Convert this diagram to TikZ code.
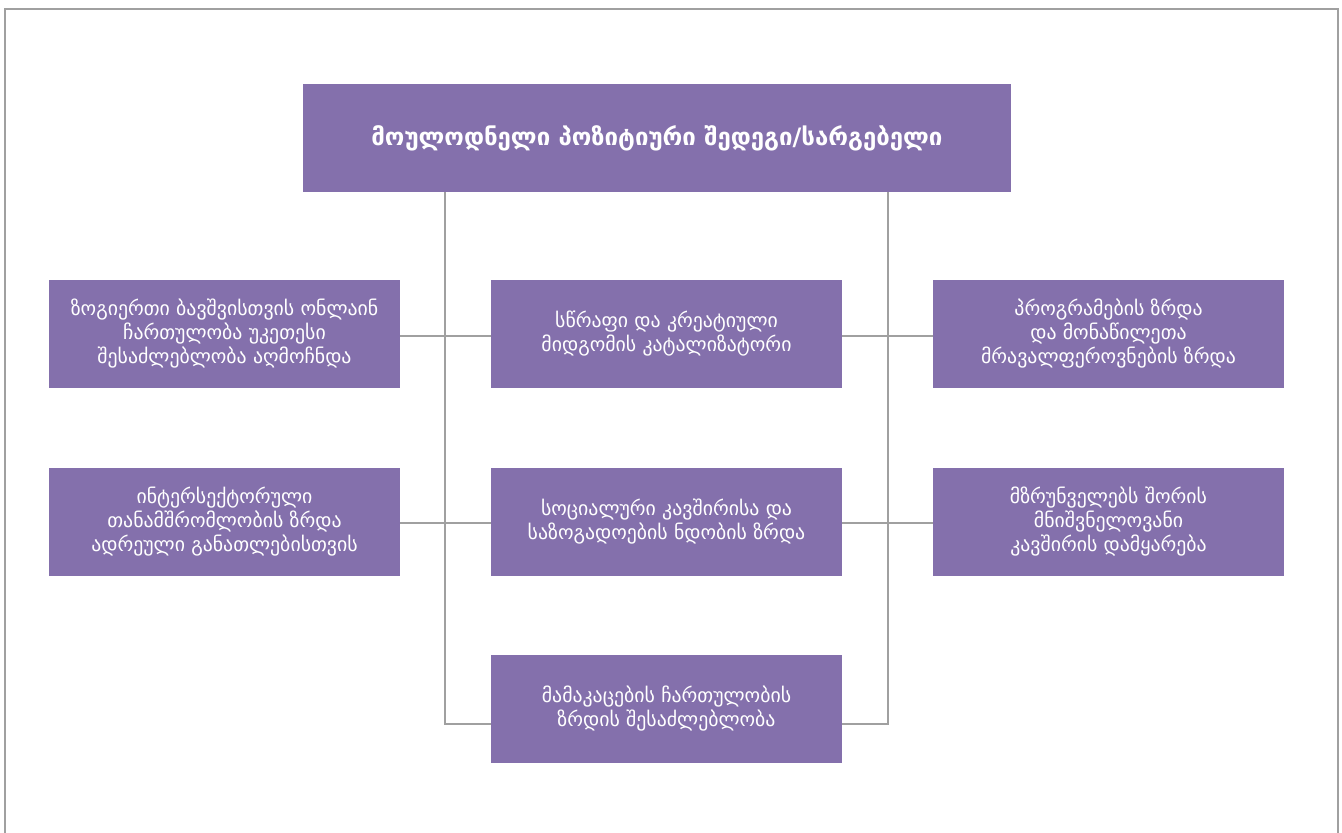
\documentclass[tikz,border=0pt]{standalone}
\usepackage{fontspec}
\setmainfont{DejaVu Sans}
\definecolor{boxc}{RGB}{132,112,172}
\definecolor{linec}{RGB}{160,160,160}
\begin{document}
\begin{tikzpicture}[x=0.5pt,y=-0.5pt,
  box/.style={fill=boxc,text=white,draw=none,inner sep=0pt,align=center,
    minimum width=175.5pt,minimum height=54pt,font=\fontsize{9.9}{12}\selectfont},
  conn/.style={draw=linec,line width=1.2pt}]
\useasboundingbox (0,0) rectangle (1342,833);
\draw[linec,line width=1.1pt] (5,833) -- (5,9) -- (1338,9) -- (1338,833);
\node[box,minimum width=354pt,font=\fontsize{12}{14}\selectfont\bfseries] (top) at (657,138) {მოულოდნელი პოზიტიური შედეგი/სარგებელი};
\node[box] (l1) at (224.5,334) {ზოგიერთი ბავშვისთვის ონლაინ\\ჩართულობა უკეთესი\\შესაძლებლობა აღმოჩნდა};
\node[box] (m1) at (666.5,334) {სწრაფი და კრეატიული\\მიდგომის კატალიზატორი};
\node[box] (r1) at (1108.5,334) {პროგრამების ზრდა\\და მონაწილეთა\\მრავალფეროვნების ზრდა};
\node[box] (l2) at (224.5,522) {ინტერსექტორული\\თანამშრომლობის ზრდა\\ადრეული განათლებისთვის};
\node[box] (m2) at (666.5,522) {სოციალური კავშირისა და\\საზოგადოების ნდობის ზრდა};
\node[box] (r2) at (1108.5,522) {მზრუნველებს შორის\\მნიშვნელოვანი\\კავშირის დამყარება};
\node[box] (m3) at (666.5,709) {მამაკაცების ჩართულობის\\ზრდის შესაძლებლობა};
\coordinate (jl) at (445,724);
\coordinate (jr) at (888,724);
\coordinate (h1) at (0,336);
\coordinate (h2) at (0,523);
\draw[conn] (top.south -| jl) -- (jl) -- (m3.west |- jl);
\draw[conn] (top.south -| jr) -- (jr) -- (m3.east |- jr);
\draw[conn] (l1.east |- h1) -- (m1.west |- h1);
\draw[conn] (m1.east |- h1) -- (r1.west |- h1);
\draw[conn] (l2.east |- h2) -- (m2.west |- h2);
\draw[conn] (m2.east |- h2) -- (r2.west |- h2);
\end{tikzpicture}
\end{document}
